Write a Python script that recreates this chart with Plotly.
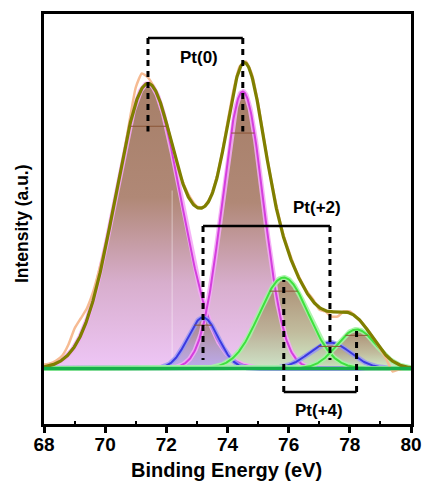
import numpy as np
import plotly.graph_objects as go

# ---------------- data (arbitrary units) ----------------
x_ticks = [68, 70, 72, 74, 76, 78, 80]
x_minor = [69, 71, 73, 75, 77, 79]

raw_be = [68.0, 68.2, 68.4, 68.6, 68.8, 69.0, 69.2, 69.4, 69.6, 69.8,
          70.0, 70.2, 70.4, 70.6, 70.8, 71.0, 71.2, 71.4, 71.6, 71.8,
          72.0, 72.2, 72.4, 72.6, 72.8, 73.0, 73.2, 73.4, 73.6, 73.8,
          74.0, 74.2, 74.4, 74.6, 74.8, 75.0, 75.2, 75.4, 75.6, 75.8,
          76.0, 76.2, 76.4, 76.6, 76.8, 77.0, 77.2, 77.4, 77.6, 77.8,
          78.0, 78.2, 78.4, 78.6, 78.8, 79.0, 79.2, 79.4, 79.6, 79.8, 80.0]
raw_int = [4, 5, 8, 13, 24, 40, 50, 60, 76, 98,
           122, 150, 181, 212, 248, 281, 295, 291, 281, 266,
           246, 223, 199, 182, 170, 162, 161, 169, 186, 212,
           246, 279, 302, 307, 294, 265, 228, 193, 163, 137,
           118, 101, 88, 77, 69, 59, 57, 52, 52, 57,
           57, 52, 46, 38, 29, 19, 9, -3, -1, 0, 1]

# fitted components
peak_names = ["Pt(0) 4f7/2", "Pt(0) 4f5/2", "Pt(+2) 4f7/2", "Pt(+2) 4f5/2",
              "Pt(+4) 4f7/2", "Pt(+4) 4f5/2"]
peak_center = [71.40, 74.50, 73.20, 77.35, 75.84, 78.22]
peak_height = [285, 277, 51, 26, 91, 39]
peak_sigma = [1.06, 0.67, 0.50, 0.67, 0.80, 0.64]
peak_group = ["Pt0", "Pt0", "Pt2", "Pt2", "Pt4", "Pt4"]

# annotation brackets
pt0_bar_y, pt0_drop_y = 330.5, 237
pt2_bar_y, pt2_drop_y = 142.5, 8.5
pt4_bar_y = -23.5
label_text = ["Pt(0)", "Pt(+2)", "Pt(+4)"]
label_x = [73.07, 76.93, 76.99]
label_y = [311.5, 161.5, -41.5]

# faint guide line inside the first peak
guide_x, guide_top = 72.19, 178

# ---------------- styles ----------------
fill_scales = {
    "Pt0": [[0, "rgba(238,198,246,1)"], [0.3, "rgba(216,174,205,1)"],
            [0.6, "rgba(176,136,118,1)"], [1, "rgba(166,127,104,1)"]],
    "Pt2": [[0, "rgba(176,164,236,0.8)"], [0.4, "rgba(170,150,190,0.8)"],
            [1, "rgba(160,122,104,0.85)"]],
    "Pt4": [[0, "rgba(200,234,192,0.85)"], [0.4, "rgba(182,176,140,0.85)"],
            [1, "rgba(160,124,96,0.9)"]],
}
line_core = {"Pt0": "#d43ede", "Pt2": "#3a3ae2", "Pt4": "#3ee23e"}
line_halo = {"Pt0": "rgba(244,170,246,0.9)", "Pt2": "rgba(150,150,244,0.8)",
             "Pt4": "rgba(165,244,165,0.9)"}

be_fit = np.linspace(68, 80, 721)
comps = [h * np.exp(-(be_fit - c) ** 2 / (2 * s ** 2))
         for c, h, s in zip(peak_center, peak_height, peak_sigma)]
envelope = np.sum(comps, axis=0)

fig = go.Figure()

# fills
for comp, grp, h in zip(comps, peak_group, peak_height):
    fig.add_trace(go.Scatter(
        x=be_fit, y=comp, mode="lines", fill="tozeroy",
        line=dict(width=0, color="rgba(0,0,0,0)"),
        fillgradient=dict(type="vertical", colorscale=fill_scales[grp], start=0, stop=h),
        hoverinfo="skip", showlegend=False))

fig.add_trace(go.Scatter(x=[guide_x, guide_x], y=[0, guide_top], mode="lines",
                         line=dict(width=1, color="rgba(255,255,255,0.45)"),
                         hoverinfo="skip", showlegend=False))

# outlines
for comp, grp in zip(comps, peak_group):
    fig.add_trace(go.Scatter(x=be_fit, y=comp, mode="lines",
                             line=dict(width=5, color=line_halo[grp]),
                             hoverinfo="skip", showlegend=False))
    fig.add_trace(go.Scatter(x=be_fit, y=comp, mode="lines",
                             line=dict(width=2, color=line_core[grp]),
                             hoverinfo="skip", showlegend=False))

# raw data and envelope
fig.add_trace(go.Scatter(x=raw_be, y=raw_int, mode="lines",
                         line=dict(width=2.5, color="#f6bb93", shape="spline", smoothing=0.5),
                         showlegend=False))
fig.add_trace(go.Scatter(x=be_fit, y=envelope, mode="lines",
                         line=dict(width=3.2, color="#7f7f00"), showlegend=False))
# baseline
fig.add_trace(go.Scatter(x=[68, 80], y=[0, 0], mode="lines",
                         line=dict(width=3.5, color="#17b04b"), showlegend=False))

shapes = []
# 85% level marks
for c, h, s in zip(peak_center, peak_height, peak_sigma):
    half = s * np.sqrt(2 * np.log(1 / 0.85))
    shapes.append(dict(type="line", x0=c - half, x1=c + half,
                       y0=0.85 * h, y1=0.85 * h, line=dict(color="#8a5536", width=1)))

dash = "6px,5px"
blk = "#000000"
c1, c2 = peak_center[0], peak_center[1]
shapes += [
    dict(type="line", x0=c1, x1=c2, y0=pt0_bar_y, y1=pt0_bar_y, line=dict(color=blk, width=2.5)),
    dict(type="line", x0=c1, x1=c1, y0=pt0_bar_y, y1=pt0_drop_y, line=dict(color=blk, width=3, dash=dash)),
    dict(type="line", x0=c2, x1=c2, y0=pt0_bar_y, y1=pt0_drop_y, line=dict(color=blk, width=3, dash=dash)),
]
c1, c2 = peak_center[2], peak_center[3]
shapes += [
    dict(type="line", x0=c1, x1=c2, y0=pt2_bar_y, y1=pt2_bar_y, line=dict(color=blk, width=2.5)),
    dict(type="line", x0=c1, x1=c1, y0=pt2_bar_y, y1=pt2_drop_y, line=dict(color=blk, width=3, dash=dash)),
    dict(type="line", x0=c2, x1=c2, y0=pt2_bar_y, y1=pt2_drop_y, line=dict(color=blk, width=3, dash=dash)),
]
c1, c2 = peak_center[4], peak_center[5]
h1, h2 = peak_height[4], peak_height[5]
shapes += [
    dict(type="line", x0=c1, x1=c2, y0=pt4_bar_y, y1=pt4_bar_y, line=dict(color=blk, width=2.5)),
    dict(type="line", x0=c1, x1=c1, y0=pt4_bar_y, y1=h1 - 2.5, line=dict(color=blk, width=3, dash=dash)),
    dict(type="line", x0=c2, x1=c2, y0=pt4_bar_y, y1=h2 - 0.5, line=dict(color=blk, width=3, dash=dash)),
]
for sh in shapes:
    sh["xref"] = "x"
    sh["yref"] = "y"

annotations = [dict(x=lx, y=ly, xref="x", yref="y", text="<b>%s</b>" % t, showarrow=False,
                    xanchor="center", yanchor="middle",
                    font=dict(family="Liberation Sans", size=17, color="black"))
               for t, lx, ly in zip(label_text, label_x, label_y)]
annotations.append(dict(x=0.4986, y=-0.112, xref="paper", yref="paper",
                        xanchor="center", yanchor="middle",
                        text="<b>Binding Energy (eV)</b>", showarrow=False,
                        font=dict(family="Liberation Sans", size=20, color="black")))
annotations.append(dict(x=-0.06, y=0.49, xref="paper", yref="paper", textangle=-90,
                        xanchor="center", yanchor="middle",
                        text="<b>Intensity (a.u.)</b>", showarrow=False,
                        font=dict(family="Liberation Sans", size=17.5, color="black")))

fig.update_layout(
    width=425, height=487,
    margin=dict(l=44, r=14, t=14, b=63, autoexpand=False),
    plot_bgcolor="white", paper_bgcolor="white",
    shapes=shapes, annotations=annotations, showlegend=False,
    xaxis=dict(range=[68, 80], tickvals=x_ticks, ticktext=["<b>%d</b>" % v for v in x_ticks],
               ticks="outside", ticklen=6, tickwidth=2.5, automargin=False,
               tickcolor="black", showline=True, linewidth=3, linecolor="black", mirror=True,
               showgrid=False, zeroline=False, ticklabelstandoff=-5,
               tickfont=dict(family="Liberation Sans", size=19, color="black"),
               minor=dict(tickvals=x_minor, ticks="inside", ticklen=3, tickwidth=2, tickcolor="black")),
    yaxis=dict(range=[-55.5, 354.5], showticklabels=False, ticks="", showline=True,
               automargin=False,
               linewidth=3, linecolor="black", mirror=True, showgrid=False, zeroline=False),
)

fig.write_html("out.html")
